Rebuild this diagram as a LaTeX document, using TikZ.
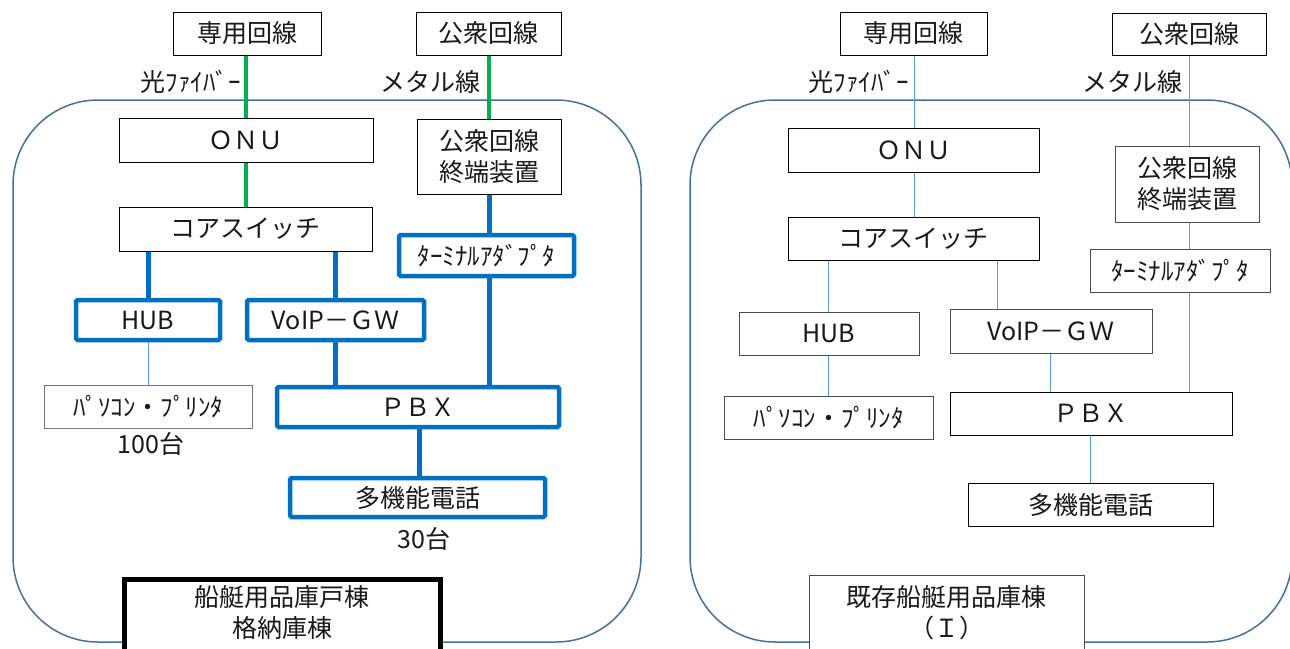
\documentclass[tikz,border=0pt]{standalone}
\usepackage{fontspec}
\setmainfont{Noto Sans CJK JP}
\definecolor{tgreen}{HTML}{00B050}
\definecolor{tblue}{HTML}{0070C0}
\definecolor{lblue}{HTML}{5B9BD5}
\definecolor{fblue}{HTML}{41719C}
\begin{document}
\begin{tikzpicture}[x=1pt,y=-1pt,
  every node/.style={font=\fontsize{25}{31}\selectfont, inner sep=0pt, text=black!90},
  box/.style={draw=black, line width=1pt, fill=white, minimum height=43pt},
  dbox/.style={draw=black!70, line width=1pt, fill=white, minimum height=43pt},
  bbox/.style={draw=tblue, line width=4.5pt, fill=white, rounded corners=1.5pt, minimum height=40pt},
  bldg/.style={draw=black, line width=5pt, fill=white},
  lbl/.style={anchor=east},
  gline/.style={draw=tgreen, line width=4pt},
  bline/.style={draw=tblue, line width=5pt},
  tline/.style={draw=lblue, line width=1pt},
  frame/.style={draw=fblue, line width=1.5pt, rounded corners=85pt}]
\useasboundingbox (0,0) rectangle (1290,648);
\clip (0,0) rectangle (1290,648);

% ---------- frames ----------
\node[frame, minimum width=628pt, minimum height=542pt] (room1) at (327,371) {};
\node[frame, minimum width=602pt, minimum height=542pt] (room2) at (991,371) {};

% ---------- left panel ----------
\node[box, minimum width=148pt] (sen1) at (247,33.5) {専用回線};
\node[box, minimum width=145pt] (kou1) at (488.5,33.5) {公衆回線};
\node[lbl] (opt1) at (241,82) {光ﾌｧｲﾊﾞｰ};
\node[lbl] (met1) at (481,82) {メタル線};
\node[box, minimum width=254pt, minimum height=44pt] (onu1) at (246,140) {ＯＮＵ};
\node[box, minimum width=144pt, minimum height=75pt, align=center] (term1) at (489,156.5) {公衆回線\\終端装置};
\node[box, minimum width=253pt, minimum height=44pt] (core1) at (245.5,229) {コアスイッチ};
\node[bbox, minimum width=175pt, minimum height=41pt] (ta1) at (486.5,255.5) {ﾀｰﾐﾅﾙｱﾀﾞﾌﾟﾀ};
\node[bbox, minimum width=144pt] (hub1) at (148,320) {HUB};
\node[bbox, minimum width=177pt] (voip1) at (335.5,320) {VoIP－ＧＷ};
\node[box, draw=black!55, minimum width=208pt] (pc1) at (148,406.5) {ﾊﾟｿｺﾝ・ﾌﾟﾘﾝﾀ};
\node (n100) at (151,444) {100台};
\node[bbox, minimum width=282pt] (pbx1) at (418,407) {ＰＢＸ};
\node[bbox, minimum width=255pt, minimum height=39pt] (tel1) at (417.5,497.5) {多機能電話};
\node (n30) at (424,539) {30台};
\node[bldg, minimum width=316pt, minimum height=150pt, anchor=north] (bd1) at (282,577) {};
\node[align=center] (bd1t) at (282,612.5) {船艇用品庫戸棟\\格納庫棟};

\coordinate (xa) at (246,0);
\coordinate (xb) at (489,0);
\coordinate (xc) at (148,0);
\coordinate (xd) at (335,0);
\coordinate (xe) at (419,0);
\draw[gline] (xa |- sen1.south) -- (xa |- onu1.north);
\draw[gline] (xa |- onu1.south) -- (xa |- core1.north);
\draw[gline] (xb |- kou1.south) -- (xb |- term1.north);
\draw[bline] (xb |- term1.south) -- (xb |- ta1.north);
\draw[bline] (xb |- ta1.south) -- (xb |- pbx1.north);
\draw[bline] (xc |- core1.south) -- (xc |- hub1.north);
\draw[tline] (xc |- hub1.south) -- (xc |- pc1.north);
\draw[bline] (xd |- core1.south) -- (xd |- voip1.north);
\draw[bline] (xd |- voip1.south) -- (xd |- pbx1.north);
\draw[bline] (xe |- pbx1.south) -- (xe |- tel1.north);

% ---------- right panel ----------
\node[box, minimum width=147pt] (sen2) at (913.5,33.5) {専用回線};
\node[box, minimum width=154pt, minimum height=42pt] (kou2) at (1189,34) {公衆回線};
\node[lbl] (opt2) at (909,82) {光ﾌｧｲﾊﾞｰ};
\node[lbl] (met2) at (1183,82) {メタル線};
\node[box, minimum width=251pt, minimum height=44pt] (onu2) at (913.5,150) {ＯＮＵ};
\node[dbox, minimum width=144pt, minimum height=76pt, align=center] (term2) at (1187,184) {公衆回線\\終端装置};
\node[box, minimum width=251pt] (core2) at (913.5,238.5) {コアスイッチ};
\node[dbox, minimum width=180pt] (ta2) at (1180,270.5) {ﾀｰﾐﾅﾙｱﾀﾞﾌﾟﾀ};
\node[dbox, minimum width=180pt] (hub2) at (829,333.5) {HUB};
\node[dbox, minimum width=202pt, minimum height=44pt] (voip2) at (1051,331) {VoIP－ＧＷ};
\node[dbox, minimum width=209pt] (pc2) at (828.5,417.5) {ﾊﾟｿｺﾝ・ﾌﾟﾘﾝﾀ};
\node[box, minimum width=282pt] (pbx2) at (1091,413.5) {ＰＢＸ};
\node[box, minimum width=245pt] (tel2) at (1090.5,504.5) {多機能電話};
\node[dbox, minimum width=275pt, minimum height=150pt, anchor=north] (bd2) at (946.5,575) {};
\node[align=center] (bd2t) at (946.5,612.5) {既存船艇用品庫棟\\（Ｉ）};

\coordinate (ya) at (914,0);
\coordinate (yb) at (1189,0);
\coordinate (yc) at (828,0);
\coordinate (yd) at (997,0);
\coordinate (ye) at (1050,0);
\coordinate (yf) at (1090,0);
\draw[tline] (ya |- sen2.south) -- (ya |- onu2.north);
\draw[tline] (ya |- onu2.south) -- (ya |- core2.north);
\draw[tline] (yb |- kou2.south) -- (yb |- term2.north);
\draw[tline] (yb |- term2.south) -- (yb |- ta2.north);
\draw[tline] (yb |- ta2.south) -- (yb |- pbx2.north);
\draw[tline] (yc |- core2.south) -- (yc |- hub2.north);
\draw[tline] (yc |- hub2.south) -- (yc |- pc2.north);
\draw[tline] (yd |- core2.south) -- (yd |- voip2.north);
\draw[tline] (ye |- voip2.south) -- (ye |- pbx2.north);
\draw[tline] (yf |- pbx2.south) -- (yf |- tel2.north);
\end{tikzpicture}
\end{document}
